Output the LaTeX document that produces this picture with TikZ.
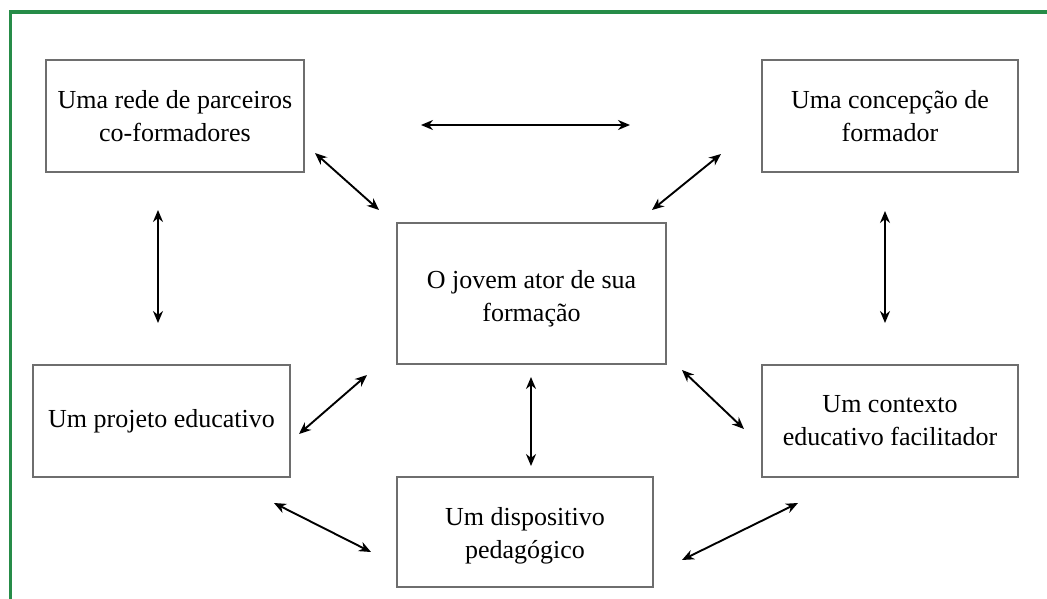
\documentclass[tikz,border=0pt]{standalone}
\usepackage{fontspec}
\setmainfont{Liberation Serif}
\usetikzlibrary{arrows.meta}
\definecolor{frameg}{RGB}{38,140,72}
\definecolor{boxg}{RGB}{110,110,110}
\tikzset{
  box/.style={draw=boxg, line width=1.3pt, rectangle, align=center, inner sep=0pt,
    font=\fontsize{26}{33}\selectfont},
  txt/.style={align=center, inner sep=0pt, font=\fontsize{26}{33}\selectfont},
  link/.style={line width=1.9pt, {Stealth[length=12pt,width=10pt]}-{Stealth[length=12pt,width=10pt]}},
}
\begin{document}
\begin{tikzpicture}[x=1pt,y=-1pt]
\useasboundingbox (0,0) rectangle (1047,599);
\fill[white] (0,0) rectangle (1047,599);
\draw[frameg, line width=3.5pt] (10.5,599) -- (10.5,12) -- (1047,12);

\node[box, minimum width=258pt, minimum height=112pt] (tl) at (175,116) {Uma rede de parceiros\\co-formadores};
\node[box, minimum width=256pt, minimum height=112pt] (tr) at (890,116) {Uma concepção de\\formador};
\node[box, minimum width=269pt, minimum height=141pt,
  label={[txt, yshift=-5pt]center:O jovem ator de sua\\formação}] (c) at (531.5,293.5) {};
\node[box, minimum width=257pt, minimum height=112pt] (lm) at (161.5,421) {Um projeto educativo};
\node[box, minimum width=256pt, minimum height=112pt] (rm) at (890,421) {Um contexto\\educativo facilitador};
\node[box, minimum width=256pt, minimum height=110pt,
  label={[txt, yshift=-4pt]center:Um dispositivo\\pedagógico}] (b) at (525,532) {};

\coordinate (h1) at (421,125); \coordinate (h2) at (630,125);
\coordinate (d1a) at (315,153); \coordinate (d1b) at (379,210);
\coordinate (d2a) at (721,154); \coordinate (d2b) at (652,210);
\coordinate (v1a) at (158,210); \coordinate (v1b) at (158,323);
\coordinate (v2a) at (885,211); \coordinate (v2b) at (885,323);
\coordinate (d3a) at (299,434); \coordinate (d3b) at (367,375);
\coordinate (v3a) at (531,377); \coordinate (v3b) at (531,466);
\coordinate (d4a) at (682,370); \coordinate (d4b) at (744,429);
\coordinate (d5a) at (274,503); \coordinate (d5b) at (371,552);
\coordinate (d6a) at (682,560); \coordinate (d6b) at (798,503);

\draw[link] (h1) -- (h2);
\draw[link] (d1a) -- (d1b);
\draw[link] (d2a) -- (d2b);
\draw[link] (v1a) -- (v1b);
\draw[link] (v2a) -- (v2b);
\draw[link] (d3a) -- (d3b);
\draw[link] (v3a) -- (v3b);
\draw[link] (d4a) -- (d4b);
\draw[link] (d5a) -- (d5b);
\draw[link] (d6a) -- (d6b);
\end{tikzpicture}
\end{document}
